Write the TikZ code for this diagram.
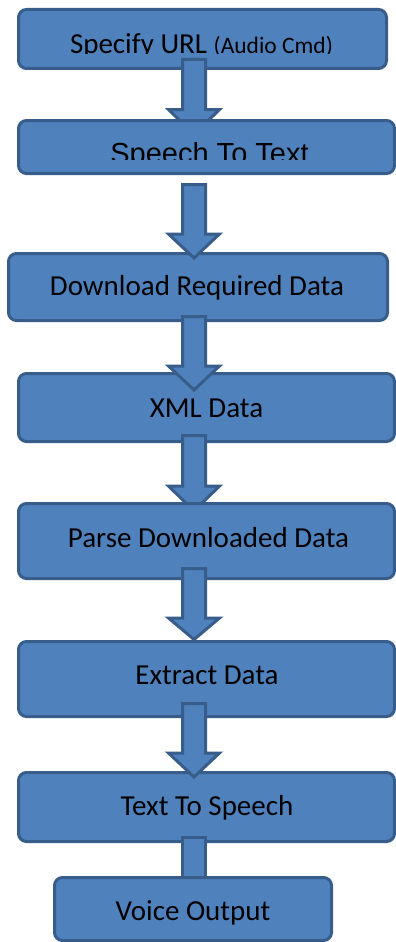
\documentclass[tikz,border=0pt]{standalone}
\usepackage{fontspec}
\setmainfont{Carlito}
\newfontfamily\arialfont{Liberation Sans}
\usetikzlibrary{calc}
\definecolor{boxfill}{HTML}{4F81BD}
\definecolor{boxline}{HTML}{385D8A}
\pgfdeclarelayer{bg}
\pgfdeclarelayer{mid}
\pgfdeclarelayer{fg}
\pgfsetlayers{bg,mid,main,fg}
\tikzset{
  box/.style={draw=boxline, fill=boxfill, line width=3pt, rounded corners=8pt,
    rectangle, inner sep=0pt, outer sep=0pt},
  blockarrow/.style={draw=boxline, fill=boxfill, line width=3pt, line join=miter},
  lbl/.style={inner sep=0pt, outer sep=0pt, anchor=base, text=black,
    font=\fontsize{29}{29}\selectfont}
}
\newcommand{\barrow}[5]{%
  \draw[blockarrow]
    ($(#1.south -| ax)+(-11.5,#2)$) -- ($(#1.south -| ax)+(11.5,#2)$)
    -- ($(#3.north -| ax)+(11.5,#4)$) -- ($(#3.north -| ax)+(25.5,#4)$)
    -- ($(#3.north -| ax)+(0,#5)$)
    -- ($(#3.north -| ax)+(-25.5,#4)$) -- ($(#3.north -| ax)+(-11.5,#4)$)
    -- cycle;}
\begin{document}
\begin{tikzpicture}[x=1pt, y=-1pt]
\useasboundingbox (0,0) rectangle (396,942);
\coordinate (ax) at (194,0);

% boxes on the lowest layer
\begin{pgfonlayer}{bg}
\node[box, minimum width=368pt, minimum height=59pt] (b1) at (202.5,39) {};
\begin{scope}
  \clip (0,0) rectangle (396,53.5);
  \node[lbl, anchor=base west] (t1) at (70,53) {Specify URL \fontsize{23.5}{23.5}\selectfont(Audio Cmd)};
\end{scope}
\node[box, minimum width=376pt, minimum height=68pt] (b4) at (206.5,407.5) {};
\node[lbl] (t4) at (206.5,417) {XML Data};
\node[box, minimum width=376pt, minimum height=69pt] (b7) at (206.5,807) {};
\node[lbl] (t7) at (207,815) {Text To Speech};
\end{pgfonlayer}

% main layer boxes
\node[box, minimum width=376pt, minimum height=53pt] (b2) at (206.5,147) {};
\begin{scope}
  \clip (0,100) rectangle (396,159.5);
  \node[lbl, font=\arialfont\fontsize{29}{29}\selectfont] (t2) at (209.5,163) {Speech To Text};
\end{scope}
\node[box, minimum width=379pt, minimum height=67pt] (b3) at (198,287) {};
\node[lbl] (t3) at (197,295) {Download Required Data};
\node[box, minimum width=376pt, minimum height=75pt] (b5) at (206.5,541) {};
\node[lbl] (t5) at (208.5,547) {Parse Downloaded Data};
\node[box, minimum width=376pt, minimum height=75pt] (b6) at (206.5,679) {};
\node[lbl] (t6) at (207,684) {Extract Data};
\node[box, minimum width=277pt, minimum height=63pt] (b8) at (193,909) {};
\node[lbl] (t8) at (193,920) {Voice Output};

% arrows partly hidden behind the next box
\begin{pgfonlayer}{mid}
\barrow{b1}{-9}{b2}{-11}{14}
\barrow{b4}{-6}{b5}{-17.5}{7.5}
\draw[blockarrow] ($(b7.south -| ax)+(-11.5,-4)$) rectangle ($(b8.north -| ax)+(11.5,4)$);
\end{pgfonlayer}

% arrows on top
\begin{pgfonlayer}{fg}
\barrow{b2}{11}{b3}{-19.5}{4.5}
\barrow{b3}{-4}{b4}{-7.5}{16.5}
\barrow{b5}{-10}{b6}{-23.5}{-2}
\barrow{b6}{-13}{b7}{-19.5}{4.5}
\end{pgfonlayer}
\end{tikzpicture}
\end{document}
